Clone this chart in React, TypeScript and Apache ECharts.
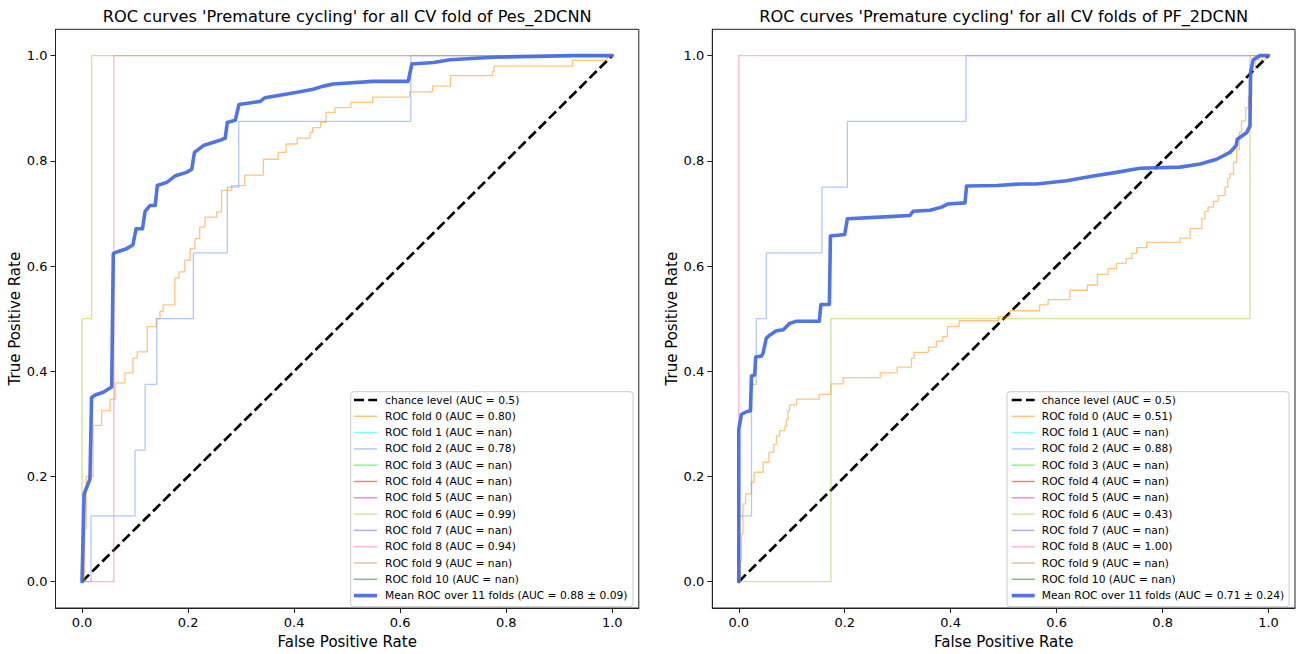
import React, { useEffect, useRef } from "react";
import * as echarts from "echarts";

const FONT = "DejaVu Sans";
const TICKS = [0, 0.2, 0.4, 0.6, 0.8, 1.0];

const TITLES = [
  "ROC curves 'Premature cycling' for all CV fold of Pes_2DCNN",
  "ROC curves 'Premature cycling' for all CV folds of PF_2DCNN",
];
const X_NAME = "False Positive Rate";
const Y_NAME = "True Positive Rate";

const CHANCE_LABEL = "chance level (AUC = 0.5)";
const CHANCE = [[0, 0], [1, 1]];

const FOLD_COLORS = [
  "rgba(255,140,0,0.5)",
  "rgba(0,255,255,0.5)",
  "rgba(100,149,237,0.5)",
  "rgba(0,255,0,0.5)",
  "rgba(255,0,0,0.5)",
  "rgba(255,0,255,0.5)",
  "rgba(154,205,50,0.5)",
  "rgba(106,90,205,0.5)",
  "rgba(255,105,180,0.5)",
  "rgba(205,133,63,0.5)",
  "rgba(0,128,0,0.5)",
];

const PES_AUC = ["0.80", "nan", "0.78", "nan", "nan", "nan", "0.99", "nan", "0.94", "nan", "nan"];
const PF_AUC = ["0.51", "nan", "0.88", "nan", "nan", "nan", "0.43", "nan", "1.00", "nan", "nan"];
const PES_MEAN_LABEL = "Mean ROC over 11 folds (AUC = 0.88 \u00b1 0.09)";
const PF_MEAN_LABEL = "Mean ROC over 11 folds (AUC = 0.71 \u00b1 0.24)";

// step curves: points at top of each rise (horizontal, then vertical)
const PES_FOLD0 = [
  [0, 0], [0.005, 0.1], [0.008, 0.2], [0.021, 0.297], [0.037, 0.325], [0.053, 0.347],
  [0.062, 0.378], [0.081, 0.397], [0.096, 0.425], [0.104, 0.437], [0.123, 0.485],
  [0.14, 0.5], [0.147, 0.514], [0.153, 0.526], [0.175, 0.577], [0.183, 0.589],
  [0.194, 0.611], [0.204, 0.633], [0.213, 0.652], [0.222, 0.674], [0.232, 0.693],
  [0.254, 0.703], [0.263, 0.744], [0.282, 0.753], [0.307, 0.773], [0.342, 0.803],
  [0.37, 0.816], [0.385, 0.832], [0.406, 0.843], [0.43, 0.854], [0.435, 0.863],
  [0.45, 0.873], [0.46, 0.892], [0.477, 0.901], [0.507, 0.911], [0.548, 0.921],
  [0.618, 0.931], [0.661, 0.942], [0.695, 0.962], [0.774, 0.97], [0.777, 0.98],
  [0.925, 0.991], [0.99, 1.0], [1, 1],
];
const PES_FOLD2 = [
  [0, 0], [0.017, 0.125], [0.1, 0.25], [0.119, 0.375], [0.141, 0.5], [0.21, 0.625],
  [0.274, 0.75], [0.2955, 0.875], [0.62, 1.0], [1, 1],
];
const PES_FOLD6 = [[0, 0], [0, 0.5], [0.018, 1.0], [1, 1]];
const PES_FOLD8 = [[0, 0], [0.06, 1.0], [1, 1]];
const PES_MEAN = [
  [0, 0], [0.004, 0.167], [0.015, 0.195], [0.018, 0.35], [0.025, 0.355], [0.04, 0.36],
  [0.056, 0.37], [0.059, 0.624], [0.07, 0.628], [0.084, 0.633], [0.096, 0.64],
  [0.102, 0.671], [0.114, 0.671], [0.119, 0.704], [0.128, 0.715], [0.138, 0.715],
  [0.142, 0.753], [0.16, 0.759], [0.175, 0.771], [0.197, 0.778], [0.207, 0.784],
  [0.212, 0.816], [0.229, 0.829], [0.257, 0.838], [0.27, 0.843], [0.274, 0.873],
  [0.289, 0.877], [0.296, 0.907], [0.336, 0.913], [0.345, 0.92], [0.398, 0.929],
  [0.436, 0.936], [0.455, 0.942], [0.474, 0.946], [0.549, 0.951], [0.615, 0.951],
  [0.622, 0.984], [0.663, 0.987], [0.694, 0.992], [0.776, 0.997], [0.926, 1.0], [1, 1],
];

const PF_FOLD0 = [
  [0, 0], [0.003, 0.038], [0.005, 0.091], [0.008, 0.148], [0.013, 0.167], [0.024, 0.189],
  [0.029, 0.208], [0.046, 0.227], [0.057, 0.246], [0.066, 0.261], [0.071, 0.277],
  [0.077, 0.287], [0.087, 0.296], [0.09, 0.309], [0.093, 0.325], [0.096, 0.336],
  [0.109, 0.347], [0.152, 0.356], [0.174, 0.376], [0.197, 0.388], [0.267, 0.397],
  [0.299, 0.408], [0.326, 0.425], [0.331, 0.436], [0.358, 0.446], [0.373, 0.457],
  [0.385, 0.466], [0.394, 0.485], [0.416, 0.496], [0.49, 0.504], [0.512, 0.515],
  [0.568, 0.526], [0.584, 0.536], [0.625, 0.554], [0.658, 0.564], [0.677, 0.584],
  [0.697, 0.595], [0.713, 0.605], [0.731, 0.614], [0.742, 0.624], [0.751, 0.635],
  [0.77, 0.645], [0.833, 0.653], [0.852, 0.671], [0.874, 0.69], [0.88, 0.704],
  [0.886, 0.712], [0.896, 0.723], [0.905, 0.734], [0.918, 0.75], [0.923, 0.766],
  [0.927, 0.775], [0.934, 0.797], [0.94, 0.822], [0.945, 0.854], [0.949, 0.876],
  [0.957, 0.901], [0.962, 0.923], [0.968, 0.974], [0.975, 0.992], [0.995, 1.0], [1, 1],
];
const PF_FOLD2 = [
  [0, 0], [0, 0.125], [0.024, 0.375], [0.033, 0.5], [0.052, 0.625], [0.157, 0.75],
  [0.205, 0.875], [0.429, 1.0], [1, 1],
];
const PF_FOLD6 = [[0, 0], [0.174, 0.5], [0.965, 1.0], [1, 1]];
const PF_FOLD8 = [[0, 0], [0, 1.0], [1, 1]];
const PF_MEAN = [
  [0, 0], [0, 0.29], [0.005, 0.318], [0.0145, 0.323], [0.022, 0.325], [0.024, 0.391],
  [0.03, 0.393], [0.032, 0.427], [0.043, 0.429], [0.046, 0.435], [0.052, 0.463],
  [0.059, 0.469], [0.071, 0.477], [0.084, 0.479], [0.096, 0.491], [0.109, 0.495],
  [0.152, 0.495], [0.155, 0.527], [0.171, 0.527], [0.173, 0.657], [0.2, 0.66],
  [0.205, 0.69], [0.266, 0.693], [0.323, 0.696], [0.329, 0.704], [0.361, 0.706],
  [0.383, 0.712], [0.395, 0.718], [0.427, 0.72], [0.43, 0.752], [0.487, 0.753],
  [0.531, 0.756], [0.562, 0.756], [0.619, 0.762], [0.669, 0.771], [0.713, 0.778],
  [0.757, 0.786], [0.833, 0.788], [0.871, 0.794], [0.902, 0.803], [0.927, 0.816],
  [0.939, 0.829], [0.941, 0.841], [0.959, 0.854], [0.965, 0.866], [0.966, 0.967],
  [0.971, 0.992], [0.984, 1.0], [1, 1],
];

const PES_FOLDS = [PES_FOLD0, [], PES_FOLD2, [], [], [], PES_FOLD6, [], PES_FOLD8, [], []];
const PF_FOLDS = [PF_FOLD0, [], PF_FOLD2, [], [], [], PF_FOLD6, [], PF_FOLD8, [], []];

const MEAN_COLOR = "rgba(65,105,225,0.92)";
const CHANCE_STYLE = { color: "#000", width: 2.7, type: [10, 4.3] as number[] };

const GRIDS = [
  { left: 55.5, top: 29.3, width: 583.3, height: 582.4 },
  { left: 712.3, top: 29.3, width: 582.7, height: 582.4 },
];
const LEGEND_BOXES = [
  { x: 350.7, y: 391.7, w: 282.3, h: 215, lineX: 354, textX: 385 },
  { x: 1007, y: 391.7, w: 282, h: 215, lineX: 1011.7, textX: 1041.7 },
];

function buildSeries(p: number, folds: number[][][], aucs: string[], meanLabel: string, mean: number[][]) {
  const s: any[] = [];
  s.push({
    type: "line", name: CHANCE_LABEL, xAxisIndex: p, yAxisIndex: p, data: CHANCE,
    symbol: "none", lineStyle: { color: CHANCE_STYLE.color, width: CHANCE_STYLE.width, type: CHANCE_STYLE.type },
    z: 2,
  });
  folds.forEach((d, i) => {
    s.push({
      type: "line", name: `ROC fold ${i} (AUC = ${aucs[i]})`, xAxisIndex: p, yAxisIndex: p,
      data: d, step: "end", symbol: "none",
      lineStyle: { color: FOLD_COLORS[i], width: 1.3 }, z: 3,
    });
  });
  s.push({
    type: "line", name: meanLabel, xAxisIndex: p, yAxisIndex: p, data: mean, symbol: "none",
    lineStyle: { color: MEAN_COLOR, width: 3.6, join: "round", cap: "round" }, z: 4,
  });
  return s;
}

function buildLegend(p: number, aucs: string[], meanLabel: string) {
  const b = LEGEND_BOXES[p];
  const els: any[] = [];
  els.push({
    type: "rect", shape: { x: b.x, y: b.y, width: b.w, height: b.h, r: 3 },
    style: { fill: "rgba(255,255,255,0.8)", stroke: "#cccccc", lineWidth: 1 }, z: 100,
  });
  const entries: { label: string; color: string; width: number; dash?: number[] }[] = [];
  entries.push({ label: CHANCE_LABEL, color: "#000", width: 2.7, dash: CHANCE_STYLE.type });
  aucs.forEach((a, i) => entries.push({ label: `ROC fold ${i} (AUC = ${a})`, color: FOLD_COLORS[i], width: 1.5 }));
  entries.push({ label: meanLabel, color: MEAN_COLOR, width: 3.6 });
  entries.forEach((e, i) => {
    const cy = 400 + i * 16.3;
    els.push({
      type: "line", shape: { x1: b.lineX, y1: cy, x2: b.lineX + 23, y2: cy },
      style: { stroke: e.color, lineWidth: e.width, lineDash: e.dash || null }, z: 101,
    });
    els.push({
      type: "text", x: b.textX, y: cy,
      style: { text: e.label, fontSize: 10.7, fontFamily: FONT, fill: "#000", align: "left", verticalAlign: "middle" },
      z: 101,
    });
  });
  return els;
}

export default function App() {
  const ref = useRef<HTMLDivElement>(null);
  useEffect(() => {
    if (!ref.current) return;
    const chart = echarts.init(ref.current, null, { renderer: "svg" });
    const axisCommon = {
      type: "value", min: -0.05, max: 1.05, nameLocation: "middle",
      nameTextStyle: { fontSize: 15, color: "#000", fontFamily: FONT },
      axisLine: { show: true, onZero: false, lineStyle: { color: "#222", width: 1 } },
      axisTick: { show: true, inside: false, length: 5, customValues: TICKS, lineStyle: { color: "#222", width: 1 } },
      axisLabel: {
        customValues: TICKS, formatter: (v: number) => v.toFixed(1), fontSize: 13, color: "#000",
        margin: 8, fontFamily: FONT,
      },
      splitLine: { show: false },
    };
    const option: any = {
      animation: false,
      backgroundColor: "#fff",
      textStyle: { fontFamily: FONT },
      grid: GRIDS.map((g) => ({ ...g, show: true, borderColor: "#222", borderWidth: 1, backgroundColor: "transparent", containLabel: false })),
      xAxis: [0, 1].map((i) => ({ ...axisCommon, gridIndex: i, name: X_NAME, nameGap: 26 })),
      yAxis: [0, 1].map((i) => ({ ...axisCommon, gridIndex: i, name: Y_NAME, nameGap: 33 })),
      series: [
        ...buildSeries(0, PES_FOLDS, PES_AUC, PES_MEAN_LABEL, PES_MEAN),
        ...buildSeries(1, PF_FOLDS, PF_AUC, PF_MEAN_LABEL, PF_MEAN),
      ],
      graphic: [
        ...GRIDS.map((g, i) => ({
          type: "text", x: g.left + g.width / 2, y: 16.8,
          style: { text: TITLES[i], fontSize: 16.2, fontFamily: FONT, fill: "#000", align: "center", verticalAlign: "middle" },
        })),
        ...buildLegend(0, PES_AUC, PES_MEAN_LABEL),
        ...buildLegend(1, PF_AUC, PF_MEAN_LABEL),
      ],
    };
    chart.setOption(option);
    return () => chart.dispose();
  }, []);
  return <div ref={ref} style={{ position: "absolute", left: 0, top: 0, width: 1299, height: 654 }} />;
}
